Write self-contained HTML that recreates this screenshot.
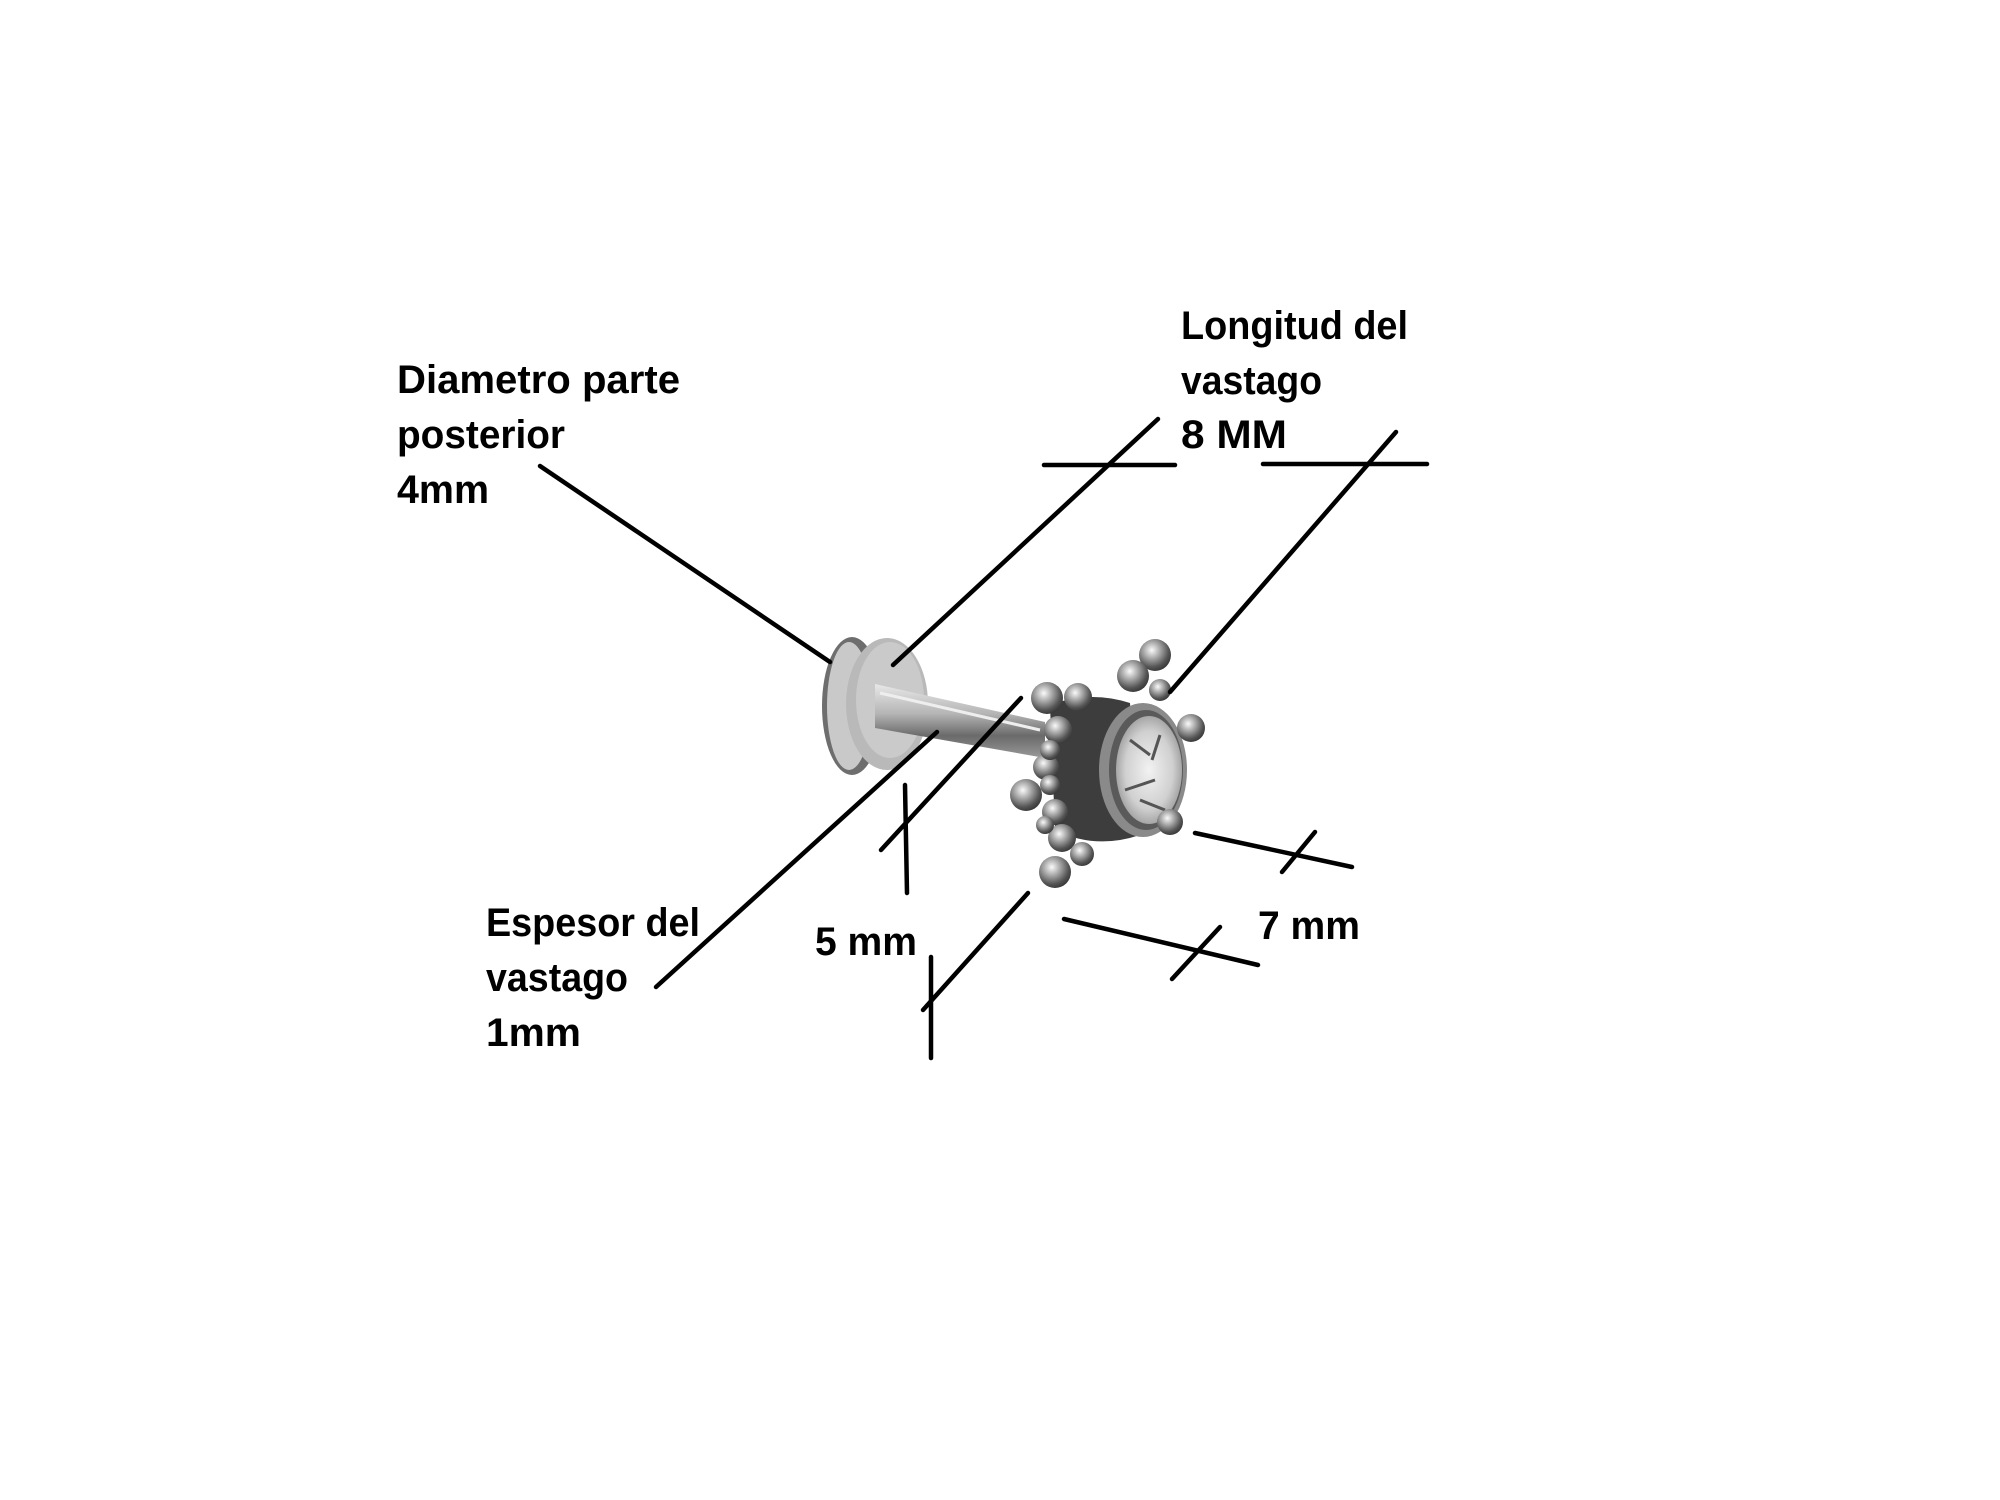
<!DOCTYPE html>
<html><head><meta charset="utf-8"><style>
html,body{margin:0;padding:0;background:#fff;}
svg{display:block;}
text{font-family:"Liberation Sans",sans-serif;font-weight:bold;font-size:40px;fill:#000;}
</style></head><body>
<svg width="2000" height="1500" viewBox="0 0 2000 1500" xmlns="http://www.w3.org/2000/svg">
<defs>
<linearGradient id="metal" x1="0" y1="0" x2="0" y2="1">
<stop offset="0" stop-color="#e8e8e8"/><stop offset="0.4" stop-color="#b5b5b5"/><stop offset="0.7" stop-color="#6a6a6a"/><stop offset="1" stop-color="#999"/>
</linearGradient>
<radialGradient id="ball" cx="0.4" cy="0.35" r="0.7">
<stop offset="0" stop-color="#fafafa"/><stop offset="0.3" stop-color="#b8b8b8"/><stop offset="0.75" stop-color="#555"/><stop offset="1" stop-color="#333"/>
</radialGradient>
<radialGradient id="gem" cx="0.5" cy="0.5" r="0.6">
<stop offset="0" stop-color="#f2f2f2"/><stop offset="0.6" stop-color="#d0d0d0"/><stop offset="1" stop-color="#888"/>
</radialGradient>
</defs>

<ellipse cx="852" cy="706" rx="30" ry="69" fill="#6e6e6e"/>
<ellipse cx="849" cy="706" rx="22" ry="64" fill="#c9c9c9"/>
<ellipse cx="887" cy="704" rx="41" ry="66" fill="#b9b9b9"/>
<ellipse cx="890" cy="700" rx="34" ry="58" fill="#cacaca"/>
<polygon points="875,684 1045,722 1045,758 875,728" fill="url(#metal)"/>
<line x1="880" y1="693" x2="1040" y2="730" stroke="#eee" stroke-width="3"/>
<path d="M1050,705 Q1090,690 1130,703 L1140,835 Q1095,850 1055,830 Z" fill="#3d3d3d"/>
<ellipse cx="1143" cy="770" rx="44" ry="67" fill="#8a8a8a"/>
<ellipse cx="1146" cy="770" rx="37" ry="60" fill="#5a5a5a"/>
<ellipse cx="1149" cy="770" rx="33" ry="54" fill="url(#gem)"/>
<path d="M1130,740 l20,15 M1160,735 l-8,25 M1125,790 l30,-10 M1140,800 l25,10" stroke="#555" stroke-width="3"/>
<g fill="url(#ball)">
<circle cx="1047" cy="698" r="16"/><circle cx="1078" cy="697" r="14"/>
<circle cx="1155" cy="655" r="16"/><circle cx="1133" cy="676" r="16"/>
<circle cx="1160" cy="690" r="11"/><circle cx="1191" cy="728" r="14"/>
<circle cx="1170" cy="822" r="13"/><circle cx="1058" cy="730" r="14"/>
<circle cx="1046" cy="767" r="13"/><circle cx="1026" cy="795" r="16"/>
<circle cx="1055" cy="812" r="13"/><circle cx="1062" cy="838" r="14"/>
<circle cx="1055" cy="872" r="16"/><circle cx="1082" cy="854" r="12"/>
<circle cx="1050" cy="750" r="10"/><circle cx="1050" cy="785" r="10"/>
<circle cx="1045" cy="825" r="9"/>
</g>

<g stroke="#000" stroke-width="4.5" stroke-linecap="round" fill="none">
<line x1="540" y1="466" x2="830" y2="662"/>
<line x1="1158" y1="419" x2="893" y2="665"/>
<line x1="1044" y1="465" x2="1175" y2="465"/>
<line x1="1263" y1="464" x2="1427" y2="464"/>
<line x1="1396" y1="432" x2="1170" y2="692"/>
<line x1="937" y1="732" x2="656" y2="987"/>
<line x1="1021" y1="698" x2="881" y2="850"/>
<line x1="905" y1="785" x2="907" y2="893"/>
<line x1="1028" y1="893" x2="923" y2="1010"/>
<line x1="931" y1="957" x2="931" y2="1058"/>
<line x1="1195" y1="833" x2="1352" y2="867"/>
<line x1="1315" y1="832" x2="1282" y2="872"/>
<line x1="1064" y1="919" x2="1258" y2="965"/>
<line x1="1220" y1="927" x2="1172" y2="979"/>
</g>

<text x="397" y="393" textLength="283" lengthAdjust="spacingAndGlyphs">Diametro parte</text>
<text x="397" y="448" textLength="168" lengthAdjust="spacingAndGlyphs">posterior</text>
<text x="397" y="503" textLength="92" lengthAdjust="spacingAndGlyphs">4mm</text>
<text x="1181" y="339" textLength="227" lengthAdjust="spacingAndGlyphs">Longitud del</text>
<text x="1181" y="394" textLength="141" lengthAdjust="spacingAndGlyphs">vastago</text>
<text x="1181" y="448" textLength="106" lengthAdjust="spacingAndGlyphs">8 MM</text>
<text x="486" y="936" textLength="214" lengthAdjust="spacingAndGlyphs">Espesor del</text>
<text x="486" y="991" textLength="142" lengthAdjust="spacingAndGlyphs">vastago</text>
<text x="486" y="1046" textLength="95" lengthAdjust="spacingAndGlyphs">1mm</text>
<text x="815" y="955" textLength="102" lengthAdjust="spacingAndGlyphs">5 mm</text>
<text x="1258" y="939" textLength="102" lengthAdjust="spacingAndGlyphs">7 mm</text>
</svg>
</body></html>
